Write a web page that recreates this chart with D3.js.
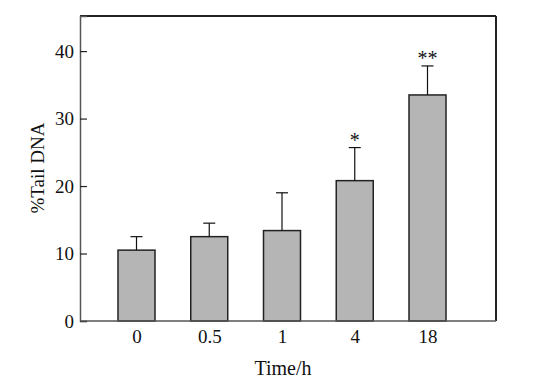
<!DOCTYPE html>
<html>
<head>
<meta charset="utf-8">
<script src="https://cdn.jsdelivr.net/npm/d3@7"></script>
<style>
  body { margin: 0; background: #fff; }
  text { font-family: "Liberation Serif", "DejaVu Serif", serif; fill: #111; }
</style>
</head>
<body>
<div id="chart"></div>
<script>
// data
let times = ["0", "0.5", "1", "4", "18"];
let means = [10.5, 12.5, 13.4, 20.8, 33.5];
let errs = [2.0, 2.0, 5.6, 4.9, 4.3];
let marks = ["", "", "", "*", "**"];
let yTicks = [0, 10, 20, 30, 40];

let svgWidth = 533, svgHeight = 385;
let margin = { top: 16, right: 37, bottom: 64, left: 80 };
let width = svgWidth - margin.left - margin.right;
let height = svgHeight - margin.top - margin.bottom;

let svg = d3.select("#chart").append("svg")
  .attr("width", svgWidth)
  .attr("height", svgHeight);

let g = svg.append("g")
  .attr("transform", `translate(${margin.left}, ${margin.top})`);

// scales
let x = d3.scalePoint().domain(times).range([56.5, 347.5]);
let y = d3.scaleLinear().domain([0, 45.2]).range([height, 0]);
let barW = 37;

// bars
g.selectAll("rect.bar")
  .data(times)
  .enter().append("rect")
  .attr("class", "bar")
  .attr("x", d => x(d) - barW / 2)
  .attr("y", (d, i) => y(means[i]))
  .attr("width", barW)
  .attr("height", (d, i) => height - y(means[i]))
  .attr("fill", "#b5b5b6")
  .attr("stroke", "#222")
  .attr("stroke-width", 1.5);

// error bars
let eb = g.selectAll("g.err").data(times).enter().append("g").attr("class", "err");
eb.append("line")
  .attr("x1", d => x(d)).attr("x2", d => x(d))
  .attr("y1", (d, i) => y(means[i]))
  .attr("y2", (d, i) => y(means[i] + errs[i]))
  .attr("stroke", "#111").attr("stroke-width", 1.2);
eb.append("line")
  .attr("x1", d => x(d) - 6).attr("x2", d => x(d) + 6)
  .attr("y1", (d, i) => y(means[i] + errs[i]))
  .attr("y2", (d, i) => y(means[i] + errs[i]))
  .attr("stroke", "#111").attr("stroke-width", 1.2);

// significance stars
g.selectAll("text.star").data(times).enter().append("text")
  .attr("class", "star")
  .attr("x", d => x(d))
  .attr("y", (d, i) => y(means[i] + errs[i]) - 1)
  .attr("text-anchor", "middle")
  .style("font-size", "20px")
  .text((d, i) => marks[i]);

// frame: top/right darker
g.append("line").attr("x1", 0).attr("x2", width).attr("y1", 0).attr("y2", 0)
  .attr("stroke", "#222").attr("stroke-width", 2);
g.append("line").attr("x1", width).attr("x2", width).attr("y1", 0).attr("y2", height)
  .attr("stroke", "#222").attr("stroke-width", 2);

// y axis (ticks inward)
let yAxis = g.append("g")
  .call(d3.axisRight(y).tickValues(yTicks).tickSize(7).tickFormat(d3.format("d")));
yAxis.select(".domain").attr("stroke", "#555").attr("stroke-width", 1.5);
yAxis.selectAll(".tick line").attr("stroke", "#222").attr("stroke-width", 1.2);
yAxis.selectAll(".tick text")
  .attr("x", -6)
  .attr("text-anchor", "end")
  .style("font-size", "19px")
  .style("font-family", "'Liberation Serif', serif");

// x axis (no tick marks)
let xAxis = g.append("g")
  .attr("transform", `translate(0, ${height})`)
  .call(d3.axisBottom(x).tickSize(0).tickPadding(9));
xAxis.select(".domain").attr("stroke", "#555").attr("stroke-width", 1.5)
  .attr("d", `M0,0H${width}`);
xAxis.selectAll(".tick text")
  .style("font-size", "19px")
  .style("font-family", "'Liberation Serif', serif");

// axis labels
svg.append("text")
  .attr("transform", `translate(44, ${margin.top + 152}) rotate(-90)`)
  .attr("text-anchor", "middle")
  .style("font-size", "19px")
  .text("%Tail DNA");

svg.append("text")
  .attr("x", 283)
  .attr("y", 375)
  .attr("text-anchor", "middle")
  .style("font-size", "20px")
  .text("Time/h");
</script>
</body>
</html>
